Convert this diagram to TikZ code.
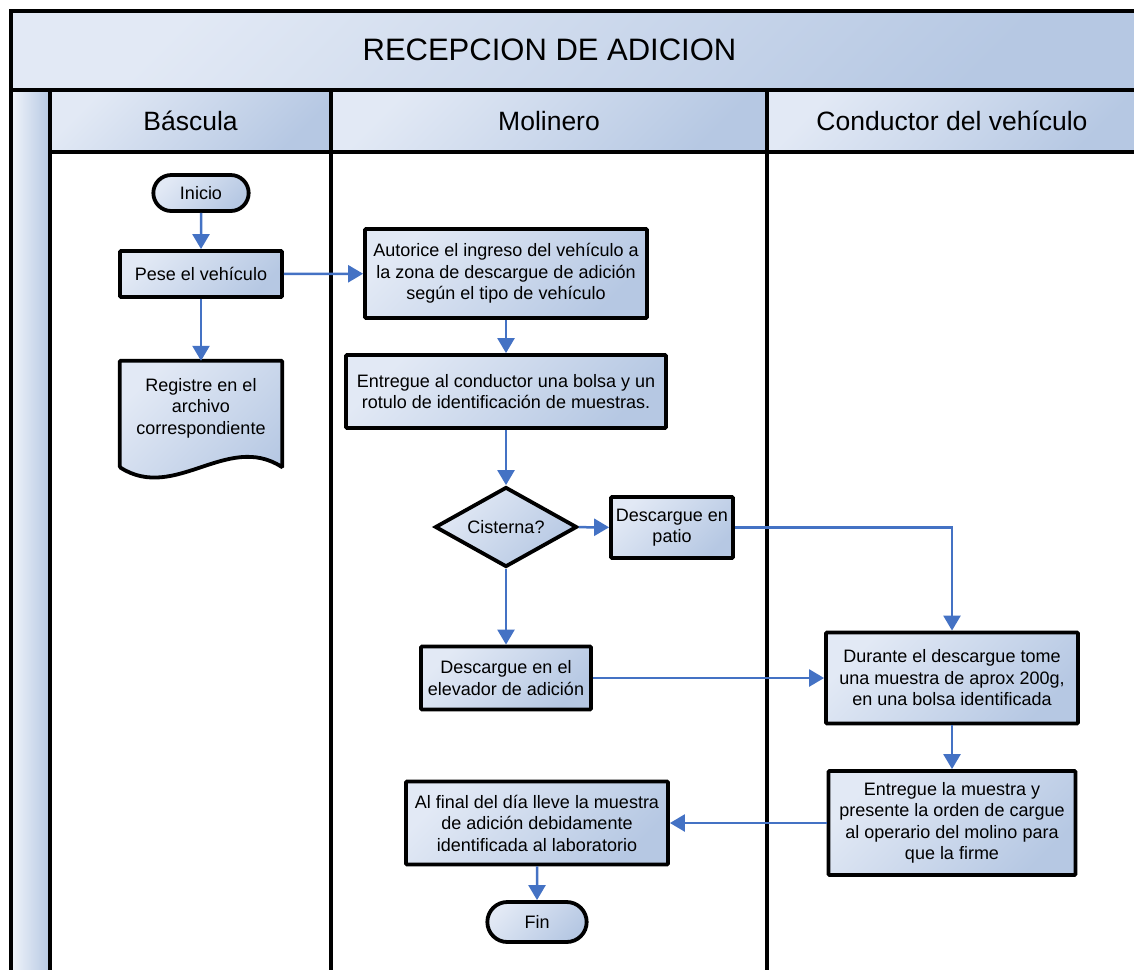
\documentclass[tikz,border=0pt]{standalone}
\usepackage{fontspec}
\setmainfont{Liberation Sans}
\usetikzlibrary{shapes}
\usetikzlibrary{shapes.geometric}
\usetikzlibrary{shapes.misc}
\usetikzlibrary{positioning}
\usetikzlibrary{arrows.meta}
\usetikzlibrary{backgrounds}
\definecolor{shlight}{RGB}{226,233,245}
\definecolor{shdark}{RGB}{182,200,227}
\definecolor{flowblue}{RGB}{68,114,196}
\tikzset{
    shadefill/.style = {top color=shlight, bottom color=shdark, shading angle=45},
    frame/.style = {line width=4pt, draw=black},
    boxn/.style = {rectangle, shadefill, draw=black, line width=3.8pt, rounded corners=1pt, align=center, inner sep=2pt, font=\fontsize{18}{21.5}\selectfont},
    termn/.style = {rounded rectangle, shadefill, draw=black, line width=3.8pt, font=\fontsize{18}{21.5}\selectfont},
    decn/.style = {diamond, aspect=1.775, shadefill, draw=black, line width=3.8pt, inner sep=0pt, font=\fontsize{18}{21.5}\selectfont},
    docn/.style = {rectangle, align=center, inner sep=0pt, font=\fontsize{18}{21.5}\selectfont},
    docshape/.style = {shadefill, draw=black, line width=3.8pt, rounded corners=1pt},
    hdrn/.style = {font=\fontsize{26.5}{30}\selectfont},
    titlen/.style = {font=\fontsize{31}{36}\selectfont},
    edgeb/.style = {-{Triangle[width=17pt,length=15pt]}, line width=2.5pt, flowblue}
}

\begin{document}
\begin{tikzpicture}[x=1pt,y=-1pt]
\useasboundingbox (0,0) rectangle (1134,969);
\clip (0,0) rectangle (1134,969);
% pool and lanes
\shade[shadefill] (11,11) rectangle (1140,90);
\shade[left color=shlight!50!white, right color=shdark] (11,90) rectangle (50,1000);
\shade[shadefill] (50,90) rectangle (331,152);
\shade[shadefill] (331,90) rectangle (767,152);
\shade[shadefill] (767,90) rectangle (1140,152);
\draw[frame] (11,1000) -- (11,11) -- (1140,11);
\draw[frame] (11,90) -- (1140,90);
\draw[frame] (50,152) -- (1140,152);
\draw[frame] (50,90) -- (50,1000);
\draw[frame] (331,90) -- (331,1000);
\draw[frame] (767,90) -- (767,1000);
\node[titlen] at (549.5,50) (title) {RECEPCION DE ADICION};
\node[hdrn] at (190.5,121) (lane1) {Báscula};
\node[hdrn] at (549,121) (lane2) {Molinero};
\node[hdrn] at (952,121) (lane3) {Conductor del vehículo};
%
\node[termn, minimum width=102pt, minimum height=36pt] at (201,193) (inicio) {Inicio};
\node[boxn, minimum width=162pt, minimum height=46pt] at (201,274) (pese) {Pese el vehículo};
\node[docn, minimum width=162pt, minimum height=94pt] at (201,408) (regis) {Registre en el\\archivo\\correspondiente};
\begin{scope}[on background layer]
\path[docshape] (regis.north west) -- (regis.north east) -- ([yshift=-12pt]regis.south east)
  .. controls +(-55,-35) and +(55,35) .. ([yshift=-12pt]regis.south west) -- cycle;
\end{scope}
\node[boxn, minimum width=282pt, minimum height=89pt] at (506,273.5) (autor) {Autorice el ingreso del vehículo a\\la zona de descargue de adición\\según el tipo de vehículo};
\node[boxn, minimum width=320pt, minimum height=73pt] at (506,391.5) (entrega) {Entregue al conductor una bolsa y un\\rotulo de identificación de muestras.};
\node[decn, minimum width=142pt, minimum height=80pt] at (506,527) (cister) {Cisterna?};
\node[boxn, minimum width=122pt, minimum height=61pt] at (672,527.5) (patio) {Descargue en\\patio};
\node[boxn, minimum width=170pt, minimum height=63pt] at (506,678) (elev) {Descargue en el\\elevador de adición};
\node[boxn, minimum width=252pt, minimum height=91pt] at (952,678) (durante) {Durante el descargue tome\\una muestra de aprox 200g,\\en una bolsa identificada};
\node[boxn, minimum width=247pt, minimum height=104pt] at (952,823) (muestra) {Entregue la muestra y\\presente la orden de cargue\\al operario del molino para\\que la firme};
\node[boxn, minimum width=262pt, minimum height=83pt] at (537,823) (final) {Al final del día lleve la muestra\\de adición debidamente\\identificada al laboratorio};
\node[termn, minimum width=106pt, minimum height=40pt] at (537,922) (fin) {Fin};
%
\draw[edgeb] (inicio) -- (pese);
\draw[edgeb] (pese) -- (regis.north);
\draw[edgeb] (pese) -- (autor);
\draw[edgeb] (autor) -- (entrega);
\draw[edgeb] (entrega) -- (cister);
\draw[edgeb] (cister) -- (patio);
\draw[edgeb] (cister) -- (elev);
\draw[edgeb] (patio.east) -| (durante.north);
\draw[edgeb] (elev) -- (durante);
\draw[edgeb] (durante) -- (muestra);
\draw[edgeb] (muestra) -- (final);
\draw[edgeb] (final) -- (fin);

\end{tikzpicture}
\end{document}
